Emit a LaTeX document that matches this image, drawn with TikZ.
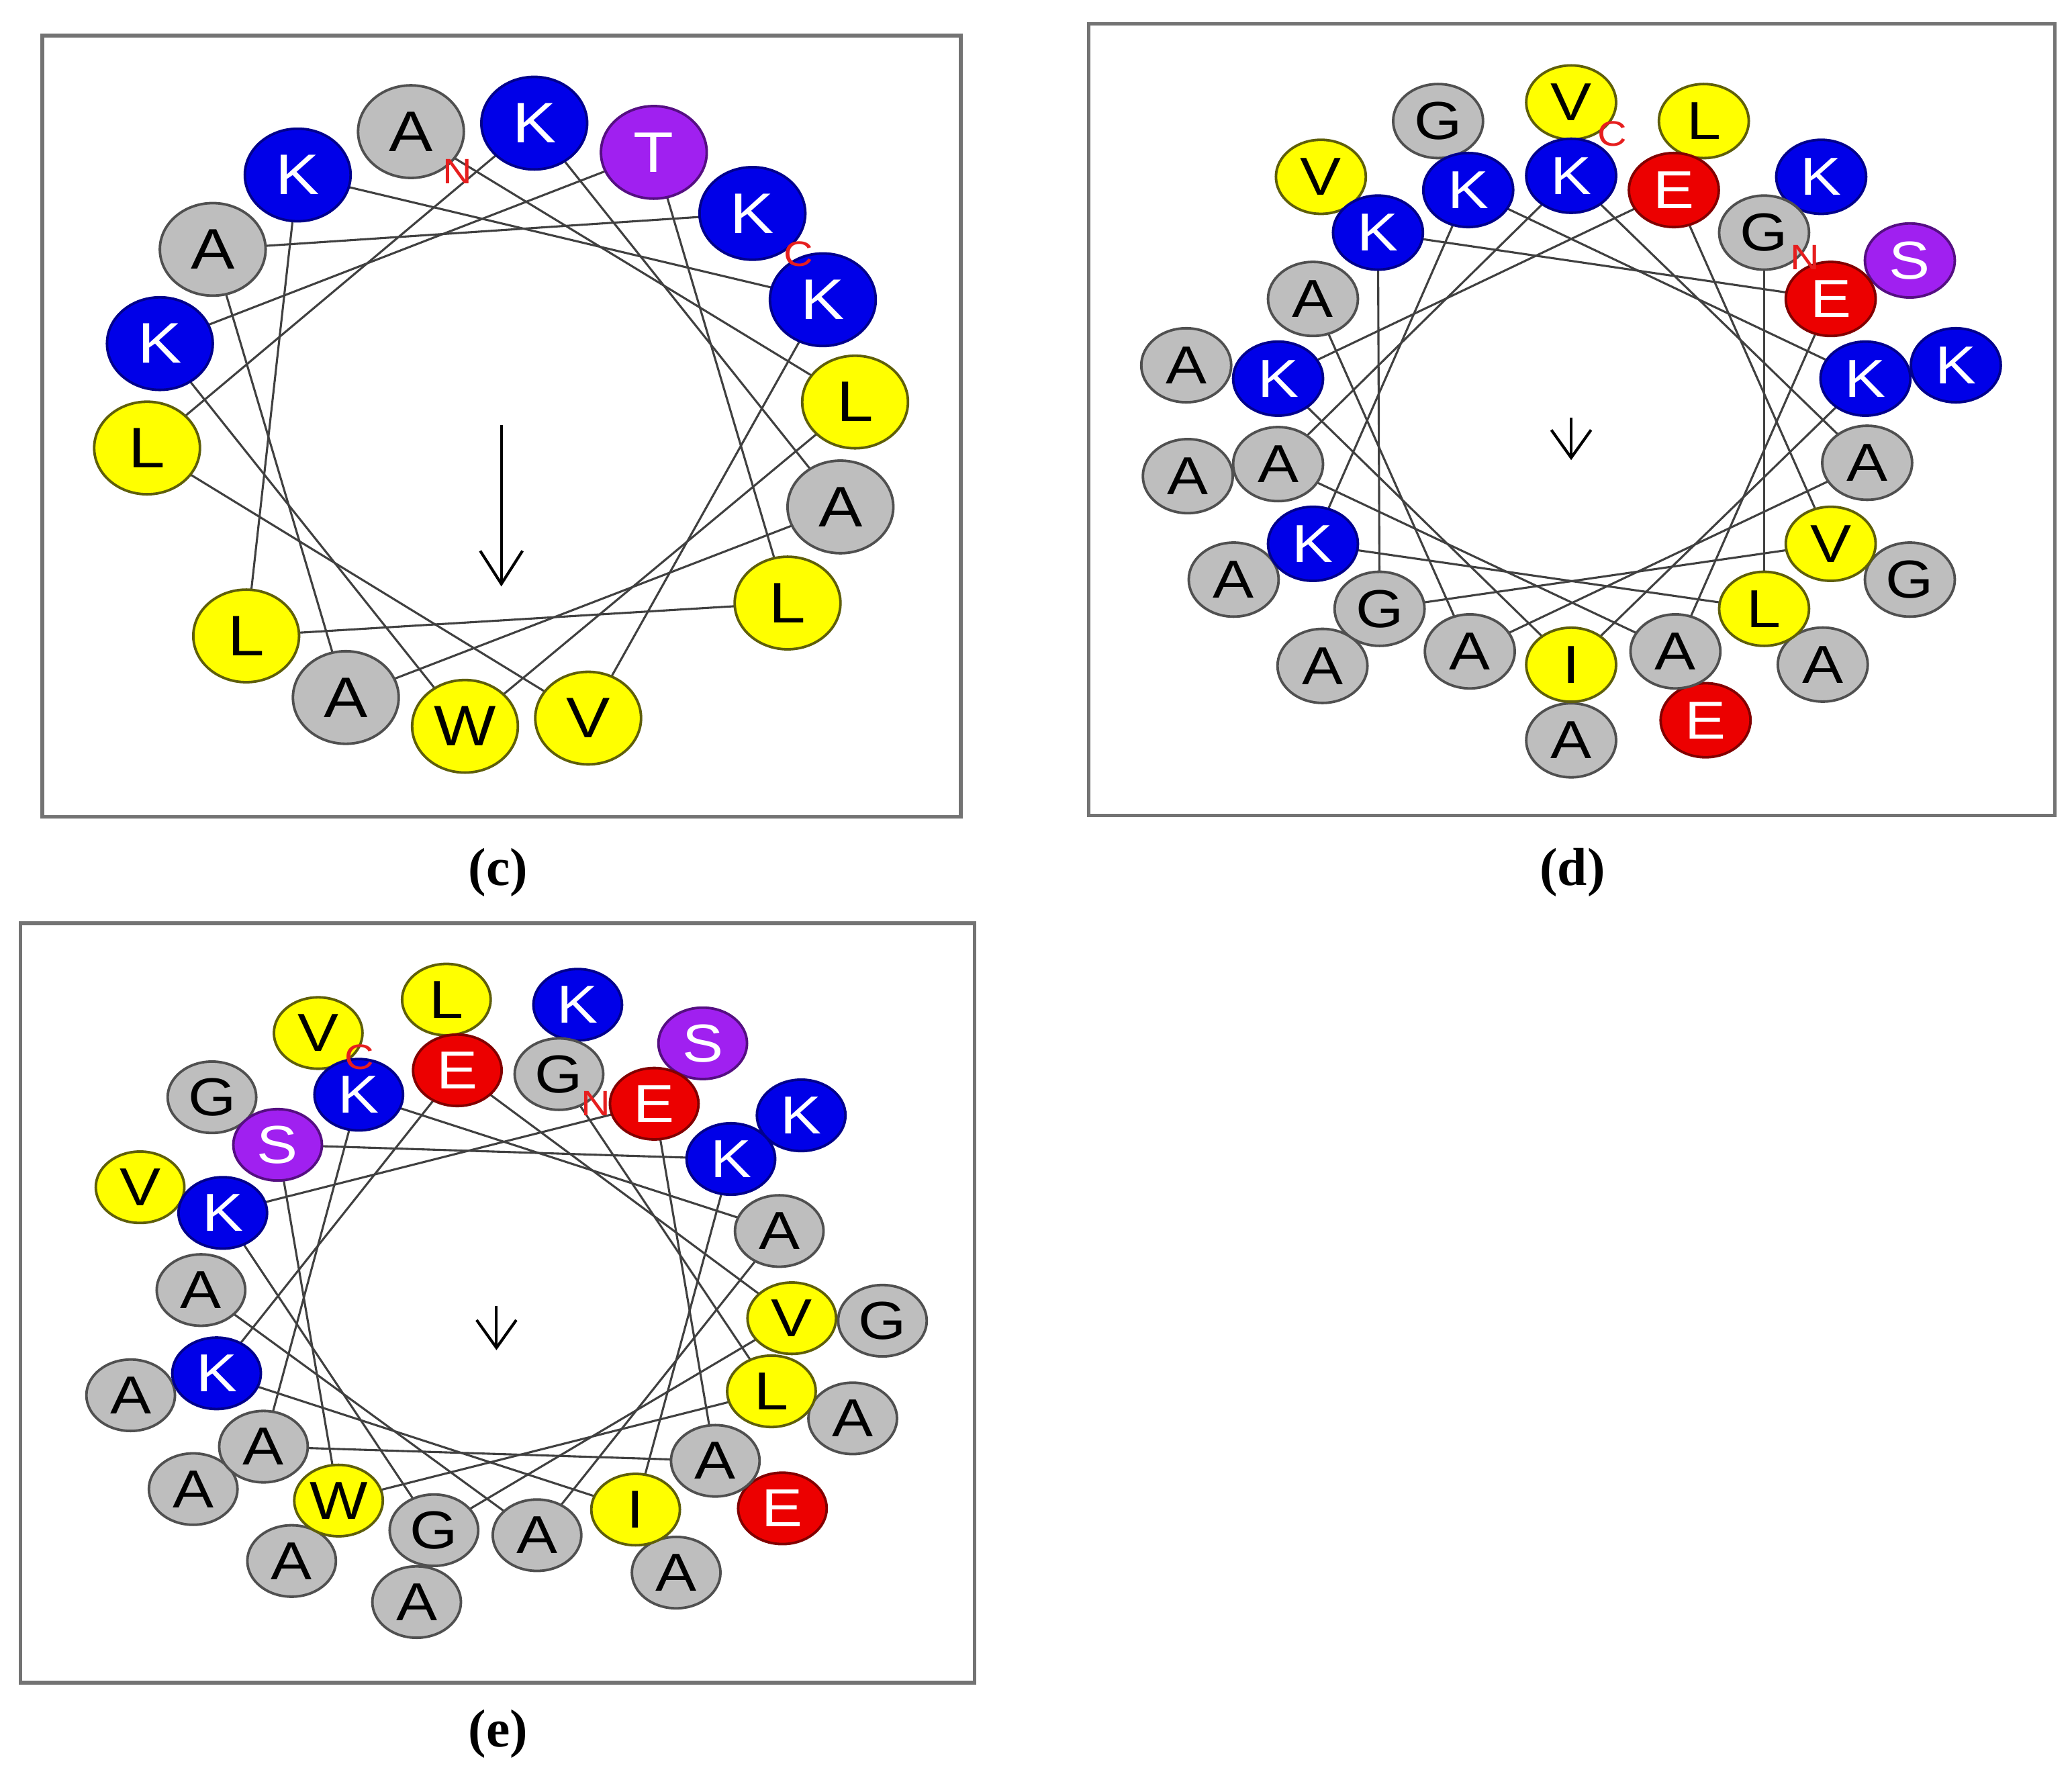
\documentclass[tikz,border=0pt]{standalone}
\usepackage{fontspec}
\setmainfont{Liberation Serif}
\newfontfamily\resf{Liberation Sans}
\usepackage{graphicx}
\usetikzlibrary{shapes.geometric,arrows.meta}
\pgfdeclarelayer{paper}
\pgfdeclarelayer{bg}
\pgfsetlayers{paper,bg,main}
\definecolor{cyel}{RGB}{255,255,0}
\definecolor{cyeld}{RGB}{95,95,10}
\definecolor{cblu}{RGB}{0,0,232}
\definecolor{cblud}{RGB}{0,0,140}
\definecolor{cred}{RGB}{236,0,0}
\definecolor{credd}{RGB}{130,0,0}
\definecolor{cpur}{RGB}{160,32,240}
\definecolor{cpurd}{RGB}{85,15,130}
\definecolor{cgra}{RGB}{190,190,190}
\definecolor{cgrad}{RGB}{80,80,80}
\definecolor{cterm}{RGB}{230,30,30}
\newcommand{\rl}[1]{\scalebox{1.15}[1]{#1}}
\tikzset{
  res/.style={ellipse, inner sep=0pt, line width=0.55pt},
  rc/.style={res, minimum width=0.80cm, minimum height=0.70cm, font=\resf\fontsize{12.3}{14}\selectfont},
  rd/.style={res, minimum width=0.68cm, minimum height=0.56cm, font=\resf\fontsize{11.5}{13}\selectfont},
  re/.style={res, minimum width=0.67cm, minimum height=0.54cm, font=\resf\fontsize{11.5}{13}\selectfont},
  hyd/.style={fill=cyel, draw=cyeld, text=black},
  bas/.style={fill=cblu, draw=cblud, text=white},
  acd/.style={fill=cred, draw=credd, text=white},
  pol/.style={fill=cpur, draw=cpurd, text=white},
  gly/.style={fill=cgra, draw=cgrad, text=black},
  link/.style={draw=black!75, line width=0.45pt},
  term/.style={text=cterm, font=\resf\fontsize{7.6}{8}\selectfont, inner sep=0pt},
  vecc/.style={draw=black, line width=0.6pt, -{Straight Barb[length=0.25cm, width=0.32cm]}},
  vecs/.style={draw=black, line width=0.6pt, -{Straight Barb[length=0.21cm, width=0.30cm]}},
  frame/.style={draw=black!55, line width=0.8pt},
  lab/.style={font=\bfseries\fontsize{11.5}{13}\selectfont, inner sep=0pt}
}
\begin{document}
\begin{tikzpicture}[x=0.01cm, y=-0.01cm]
\begin{pgfonlayer}{paper}
  \fill[white] (0,0) rectangle (1568,1342);
\end{pgfonlayer}
\useasboundingbox (0,0) rectangle (1568,1342);

% ---------------- panel (c) ----------------
\draw[frame] (32,27) rectangle (727,618);
\node[rc,gly] (c1)  at (311,99.6)    {\rl{A}};
\node[rc,hyd] (c2)  at (647.1,304.2) {\rl{L}};
\node[rc,hyd] (c3)  at (351.9,549.6) {\rl{W}};
\node[rc,bas] (c4)  at (121,260)     {\rl{K}};
\node[rc,pol] (c5)  at (494.8,115.3) {\rl{T}};
\node[rc,hyd] (c6)  at (596,456.3)   {\rl{L}};
\node[rc,hyd] (c7)  at (186.3,481.2) {\rl{L}};
\node[rc,bas] (c8)  at (225.3,132.4) {\rl{K}};
\node[rc,bas] (c9)  at (622.7,226.8) {\rl{K}};
\node[rc,hyd] (c10) at (445.1,543.4) {\rl{V}};
\node[rc,hyd] (c11) at (111.3,339)   {\rl{L}};
\node[rc,bas] (c12) at (404.3,93.2)  {\rl{K}};
\node[rc,gly] (c13) at (636,383.6)   {\rl{A}};
\node[rc,gly] (c14) at (261.7,527.8) {\rl{A}};
\node[rc,gly] (c15) at (161,188.7)   {\rl{A}};
\node[rc,bas] (c16) at (569.4,161.5) {\rl{K}};
\begin{pgfonlayer}{bg}
  \foreach \a/\b in {1/2,2/3,3/4,4/5,5/6,6/7,7/8,8/9,9/10,10/11,11/12,12/13,13/14,14/15,15/16}
    {\draw[link] (c\a.center) -- (c\b.center);}
\end{pgfonlayer}
\node[term] (cN) at ([shift={(35,30)}]c1.center) {\rl{N}};
\node[term] (cC) at ([shift={(35,31)}]c16.center) {\rl{C}};
\coordinate (ca) at (379.4,321.5);
\coordinate (cb) at (379.4,443.8);
\draw[vecc] (ca) -- (cb);
\node[lab] (labc) at (377,660) {(c)};

% ---------------- panel (d) ----------------
\draw[frame] (824,18) rectangle (1555,617);
% outer ring
\node[rd,bas] (d19) at (1378.2,133.8) {\rl{K}};
\node[rd,gly] (d20) at (1379.4,502.9) {\rl{A}};
\node[rd,gly] (d21) at (933.6,438.6)  {\rl{A}};
\node[rd,gly] (d22) at (1088.3,91.6)  {\rl{G}};
\node[rd,bas] (d23) at (1480.1,276.4) {\rl{K}};
\node[rd,gly] (d24) at (1189,560.2)   {\rl{A}};
\node[rd,gly] (d25) at (897.7,276.4)  {\rl{A}};
\node[rd,hyd] (d26) at (1289.4,91.6)  {\rl{L}};
\node[rd,gly] (d27) at (1445.3,438.6) {\rl{G}};
\node[rd,gly] (d28) at (1000.8,503.9) {\rl{A}};
\node[rd,hyd] (d29) at (999.6,133.8)  {\rl{V}};
\node[rd,pol] (d30) at (1445.3,197.1) {\rl{S}};
\node[rd,acd] (d31) at (1290.7,545)   {\rl{E}};
\node[rd,gly] (d32) at (898.9,360.3)  {\rl{A}};
\node[rd,hyd] (d33) at (1189,77.5)    {\rl{V}};
% inner ring
\node[rd,gly] (d1)  at (1335,176)     {\rl{G}};
\node[rd,hyd] (d2)  at (1335,460.7)   {\rl{L}};
\node[rd,bas] (d3)  at (993.6,411.5)  {\rl{K}};
\node[rd,bas] (d4)  at (1111.1,143.8) {\rl{K}};
\node[rd,bas] (d5)  at (1411.7,286.5) {\rl{K}};
\node[rd,hyd] (d6)  at (1189,503)     {\rl{I}};
\node[rd,bas] (d7)  at (967.2,286.5)  {\rl{K}};
\node[rd,acd] (d8)  at (1266.7,143.8) {\rl{E}};
\node[rd,hyd] (d9)  at (1385.4,411.5) {\rl{V}};
\node[rd,gly] (d10) at (1044,460.7)   {\rl{G}};
\node[rd,bas] (d11) at (1042.8,176)   {\rl{K}};
\node[rd,acd] (d12) at (1385.4,226.2) {\rl{E}};
\node[rd,gly] (d13) at (1267.9,492.9) {\rl{A}};
\node[rd,gly] (d14) at (967.2,351.2)  {\rl{A}};
\node[rd,bas] (d15) at (1189,133)     {\rl{K}};
\node[rd,gly] (d16) at (1413,350.2)   {\rl{A}};
\node[rd,gly] (d17) at (1112.3,492.9) {\rl{A}};
\node[rd,gly] (d18) at (993.6,226.2)  {\rl{A}};
\begin{pgfonlayer}{bg}
  \foreach \a/\b in {1/2,2/3,3/4,4/5,5/6,6/7,7/8,8/9,9/10,10/11,11/12,12/13,13/14,14/15,15/16,16/17,17/18}
    {\draw[link] (d\a.center) -- (d\b.center);}
\end{pgfonlayer}
\node[term] (dN) at ([shift={(31,19)}]d1.center) {\rl{N}};
\node[term] (dC) at ([shift={(31,24)}]d33.center) {\rl{C}};
\coordinate (da) at (1189,316);
\coordinate (db) at (1189,348.2);
\draw[vecs] (da) -- (db);
\node[lab] (labd) at (1190,660) {(d)};

% ---------------- panel (e) ----------------
\draw[frame] (15.6,698.5) rectangle (737.6,1273.4);
% outer ring
\node[re,bas] (e19) at (437.2,760.3)  {\rl{K}};
\node[re,gly] (e20) at (645.3,1073.3) {\rl{A}};
\node[re,gly] (e21) at (220.7,1181.2) {\rl{A}};
\node[re,gly] (e22) at (160.4,830.3)  {\rl{G}};
\node[re,bas] (e23) at (606.3,844)    {\rl{K}};
\node[re,gly] (e24) at (511.7,1190)   {\rl{A}};
\node[re,gly] (e25) at (98.9,1055.8)  {\rl{A}};
\node[re,hyd] (e26) at (337.8,756.4)  {\rl{L}};
\node[re,gly] (e27) at (667.8,999.4)  {\rl{G}};
\node[re,gly] (e28) at (315.3,1212.3) {\rl{A}};
\node[re,hyd] (e29) at (106,898.4)    {\rl{V}};
\node[re,pol] (e30) at (531.8,789.5)  {\rl{S}};
\node[re,acd] (e31) at (592.1,1141.4) {\rl{E}};
\node[re,gly] (e32) at (146.2,1126.8) {\rl{A}};
\node[re,hyd] (e33) at (240.8,781.7)  {\rl{V}};
% inner ring
\node[re,gly] (e1)  at (423,812.8)    {\rl{G}};
\node[re,hyd] (e2)  at (583.8,1052.8) {\rl{L}};
\node[re,hyd] (e3)  at (256.2,1135.5) {\rl{W}};
\node[re,pol] (e4)  at (210.1,866.3)  {\rl{S}};
\node[re,bas] (e5)  at (553.1,877)    {\rl{K}};
\node[re,hyd] (e6)  at (481,1142.3)   {\rl{I}};
\node[re,bas] (e7)  at (163.9,1039.2) {\rl{K}};
\node[re,acd] (e8)  at (346.1,809.9)  {\rl{E}};
\node[re,hyd] (e9)  at (599.2,997.5)  {\rl{V}};
\node[re,gly] (e10) at (328.4,1157.9) {\rl{G}};
\node[re,bas] (e11) at (168.6,917.8)  {\rl{K}};
\node[re,acd] (e12) at (495.1,835.2)  {\rl{E}};
\node[re,gly] (e13) at (541.3,1105.4) {\rl{A}};
\node[re,gly] (e14) at (199.4,1094.7) {\rl{A}};
\node[re,bas] (e15) at (271.5,828.4)  {\rl{K}};
\node[re,gly] (e16) at (589.7,931.5)  {\rl{A}};
\node[re,gly] (e17) at (406.4,1161.7) {\rl{A}};
\node[re,gly] (e18) at (152.1,976.2)  {\rl{A}};
\begin{pgfonlayer}{bg}
  \foreach \a/\b in {1/2,2/3,3/4,4/5,5/6,6/7,7/8,8/9,9/10,10/11,11/12,12/13,13/14,14/15,15/16,16/17,17/18}
    {\draw[link] (e\a.center) -- (e\b.center);}
\end{pgfonlayer}
\node[term] (eN) at ([shift={(28,22)}]e1.center) {\rl{N}};
\node[term] (eC) at ([shift={(31,18)}]e33.center) {\rl{C}};
\coordinate (ea) at (375.7,988);
\coordinate (eb) at (375.7,1021.7);
\draw[vecs] (ea) -- (eb);
\node[lab] (labe) at (377,1312) {(e)};
\end{tikzpicture}
\end{document}
